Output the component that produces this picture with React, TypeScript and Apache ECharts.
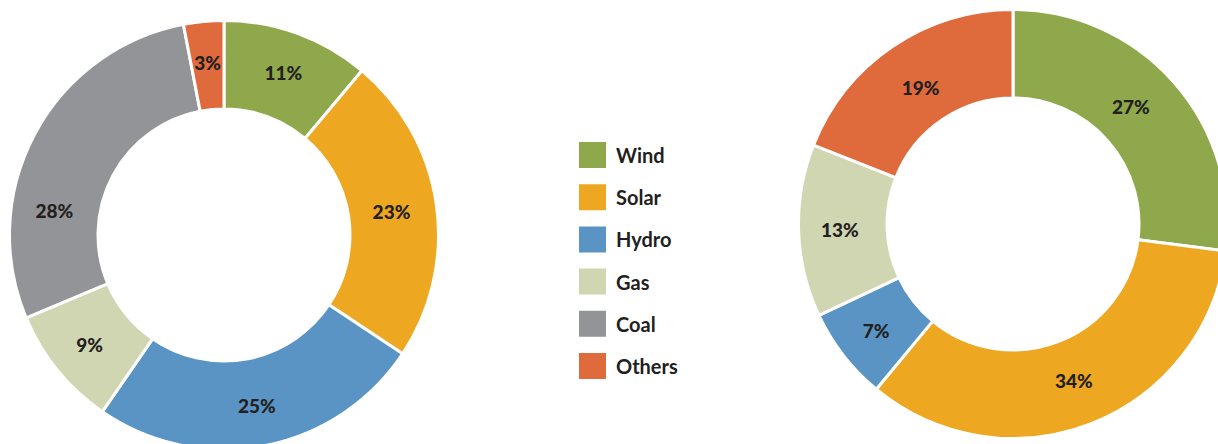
import React, { useEffect, useRef } from "react";
import * as echarts from "echarts";

const categories = ["Wind", "Solar", "Hydro", "Gas", "Coal", "Others"];
const colors = ["#8fa84b", "#eea720", "#5a94c4", "#d0d6b2", "#939497", "#df6a3c"];
const leftValues = [11, 23, 25, 9, 28, 3];
const rightValues = [27, 34, 7, 13, 0, 19];
// label nudges (px) for a few slices, as in the source figure
const leftLabelOffsets: Record<string, [number, number]> = { Coal: [-17, 57], Solar: [-4, 1] };
const rightLabelOffsets: Record<string, [number, number]> = { Wind: [-12, -3], Others: [5, 7], Solar: [-3, -5] };

function buildData(values: number[], offsets: Record<string, [number, number]>) {
  return categories
    .map((name, i) => {
      const item: any = { name, value: values[i], itemStyle: { color: colors[i] } };
      if (offsets[name]) item.label = { offset: offsets[name] };
      return item;
    })
    .filter((d) => d.value > 0);
}

export default function App() {
  const ref = useRef<HTMLDivElement>(null);
  useEffect(() => {
    document.body.style.margin = "0";
    const chart = echarts.init(ref.current!, null, { renderer: "svg" });
    const common = {
      type: "pie",
      startAngle: 90,
      clockwise: true,
      avoidLabelOverlap: false,
      itemStyle: { borderColor: "#ffffff", borderWidth: 3 },
      label: {
        show: true,
        position: "inside",
        formatter: "{c}%",
        color: "#231f20",
        fontFamily: "Lato",
        fontWeight: 900,
        fontSize: 19,
      },
      labelLine: { show: false },
      emphasis: { disabled: true },
    };
    chart.setOption({
      animation: false,
      backgroundColor: "#ffffff",
      legend: {
        orient: "vertical",
        left: 577,
        top: 140,
        padding: 0,
        itemWidth: 29,
        itemHeight: 28,
        itemGap: 12.2,
        icon: "rect",
        selectedMode: false,
        data: categories,
        textStyle: {
          color: "#231f20",
          fontFamily: "Lato",
          fontWeight: "bold",
          fontSize: 20,
          lineHeight: 28,
          padding: [0, 0, 0, 4],
        },
      },
      series: [
        { ...common, name: "left", center: [224, 235], radius: [126, 214.5], data: buildData(leftValues, leftLabelOffsets) },
        { ...common, name: "right", center: [1013, 224], radius: [126, 214.5], data: buildData(rightValues, rightLabelOffsets) },
      ],
    });
    return () => chart.dispose();
  }, []);
  return <div ref={ref} style={{ width: 1218, height: 444 }} />;
}
